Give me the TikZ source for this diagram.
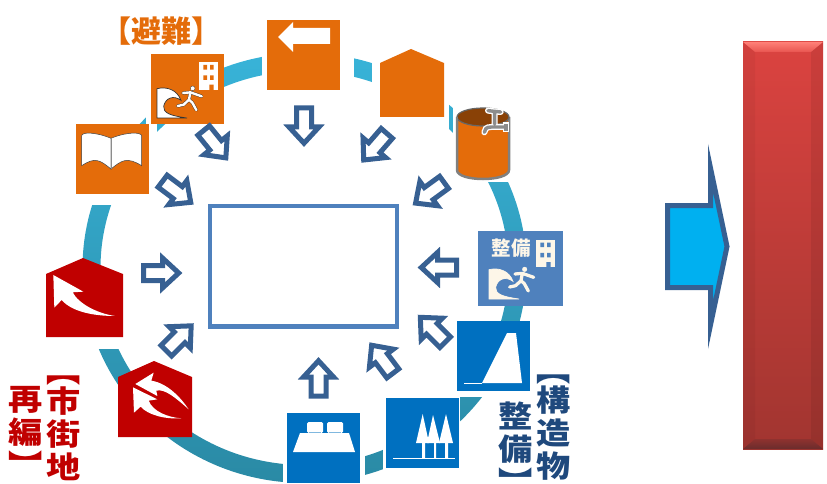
\documentclass[tikz,border=0pt]{standalone}
\usepackage{fontspec}
\usepackage{xcolor}
\usetikzlibrary{positioning,calc}
\newfontfamily\cjk{Noto Sans CJK JP}
\newfontfamily\cjkwide[FakeStretch=1.14]{Noto Sans CJK JP}
\definecolor{iorange}{HTML}{E46C0A}
\definecolor{ired}{HTML}{C00000}
\definecolor{iblue}{HTML}{0070C0}
\definecolor{isteel}{HTML}{4F81BD}
\definecolor{inavy}{HTML}{376092}
\definecolor{itext}{HTML}{1F497D}
\definecolor{icream}{HTML}{FDF6E8}
\definecolor{icyan}{HTML}{00B0F0}
\definecolor{ringa}{HTML}{38B3D8}
\definecolor{ringb}{HTML}{36A9CA}
\definecolor{ringc}{HTML}{2A8AA5}
\definecolor{bartop}{HTML}{DB4340}
\definecolor{barbot}{HTML}{A13530}
\definecolor{bevtop}{HTML}{FF8078}
\definecolor{bevmid}{HTML}{E85550}
\definecolor{bevdark}{HTML}{8F322F}
\definecolor{bevdeep}{HTML}{6A2C2C}
\tikzset{
  pics/blockarr/.style={code={
    \draw[draw=inavy, fill=white, line width=5pt, miter limit=10]
      (-18,-7.5) -- (1,-7.5) -- (1,-15) -- (17.2,0) -- (1,15) -- (1,7.5) -- (-18,7.5) -- cycle;
  }},
  pics/bldg/.style 2 args={code={
    \begin{scope}[scale=0.3333]
      \fill[#1] (0,0) rectangle (58,84);
      \fill[#2] (13,9) rectangle +(11,14) (33,9) rectangle +(11,14)
                (13,40) rectangle +(11,14) (33,40) rectangle +(11,14)
                (31,68) rectangle (44,84);
    \end{scope}
  }},
  pics/waverun/.style 2 args={code={
    \begin{scope}[scale=0.3333]
      % wave
      \filldraw[fill=#1, draw=#2, line width=0.7pt]
        (0,0) -- (0,-88) .. controls (30,-95) and (60,-85) .. (72,-53)
        .. controls (50,-70) and (25,-60) .. (20,-35)
        .. controls (18,-15) and (40,-7) .. (90,0) -- cycle;
      % runner
      \draw[#2, line width=3.2pt, line join=round, line cap=round]
        (78,-75) -- (100,-77) -- (134,-65)
        (100,-77) -- (96,-55) -- (80,-40) -- (62,-36)
        (96,-55) -- (106,-46) -- (118,-24);
      \draw[#1, line width=2.4pt, line join=round, line cap=round]
        (78,-75) -- (100,-77) -- (134,-65)
        (100,-77) -- (96,-55) -- (80,-40) -- (62,-36)
        (96,-55) -- (106,-46) -- (118,-24);
      \filldraw[fill=#1, draw=#2, line width=0.3pt] (107,-89) circle (7);
    \end{scope}
  }},
  iconbox/.style={minimum width=73pt, minimum height=70pt, inner sep=0pt, fill=#1},
  maskbox/.style={fill=white},
  vtext/.style={font=\cjkwide\bfseries\fontsize{30}{33}\selectfont, align=center, inner sep=0pt, text=#1},
}
\begin{document}
\begin{tikzpicture}[x=1pt, y=-1pt]
  \useasboundingbox (0,0) rectangle (827,484);

  % ring
  \shade[even odd rule, top color=ringa, middle color=ringb, bottom color=ringc]
    (304.5,268) ellipse [x radius=222, y radius=215]
    (304.5,268) ellipse [x radius=204, y radius=197];

  % white margins of the icons
  \fill[maskbox] (70,124) rectangle (157,205);
  \fill[maskbox] (146,40) rectangle (224,124);
  \fill[maskbox] (262,15) rectangle (354,92);
  \fill[maskbox] (372,45) rectangle (449,131);
  \fill[maskbox] (453,100) rectangle (515,182);
  \fill[maskbox] (455,321) rectangle (535,397);
  \fill[maskbox] (383,395) rectangle (460,472);
  \fill[maskbox] (283,410) rectangle (365,484);
  \fill[maskbox] (40,270) rectangle (130,349);

  % centre box
  \node[draw=isteel, fill=white, line width=4.5pt, minimum width=187pt, minimum height=120.5pt, inner sep=0pt] (centre) at (303.5,266.25) {};

  % orange icons
  \node[iconbox=iorange] (evacbox) at (187.5,89) {};
  \pic at (199,62) {bldg={white}{iorange}};
  \pic at (157,118) {waverun={white}{black!80}};

  \node[iconbox=iorange] (bookbox) at (112.5,159) {};
  \filldraw[fill=white, draw=black!75, line width=0.5pt]
    (111,138.3) .. controls (95,131.7) and (82,132) .. (81.7,135.7)
    -- (81.7,165.7) .. controls (95,156.7) and (100,160) .. (111,169) -- cycle;
  \filldraw[fill=white, draw=black!75, line width=0.5pt]
    (111,138.3) .. controls (127,131.7) and (141,132) .. (141.7,135.7)
    -- (141.7,165.7) .. controls (127,156.7) and (122,160) .. (111,169) -- cycle;
  \draw[black!45, line width=0.8pt] (111,138.3) -- (111,169);

  \node[iconbox=iorange] (routebox) at (303.5,55) {};
  \fill[white] (278,37) -- (293,22) -- (293,28) -- (330,28) -- (330,44) -- (293,44) -- (293,52) -- cycle;

  \fill[iorange] (380,63) -- (411,49) -- (444,63) -- (444,117) -- (380,117) -- cycle;

  % tank
  \filldraw[fill=iorange, draw=black!50, line width=2.5pt]
    (457,117) -- (457,170) .. controls (457,182) and (509,182) .. (509,170) -- (509,117);
  \filldraw[fill=iorange!60!black, draw=black!60, line width=1.2pt] (483,117) ellipse [x radius=26, y radius=9];
  \draw[black!50, line width=2.5pt] (457,117) -- (457,122);
  \begin{scope}[shift={(452,100)}, scale=0.3333, line cap=round]
    \draw[white, line width=6pt] (108,32) -- (146,36) (128,34) -- (128,72) (160,81) -- (118,81) .. controls (102,81) and (98,88) .. (97,97);
    \fill[white] (152,67) rectangle (172,96);
    \draw[black!45, line width=3.4pt] (108,32) -- (146,36) (128,34) -- (128,72) (160,81) -- (118,81) .. controls (102,81) and (98,88) .. (97,97);
    \fill[black!45] (156,71) rectangle (168,92);
  \end{scope}

  % red icons
  \fill[ired] (46,274) -- (83,258) -- (123,274) -- (123,337) -- (46,337) -- cycle;
  \begin{scope}[shift={(0,240)}, scale=0.3333]
    \fill[white] (160,105) -- (250,155) -- (218,157) .. controls (235,190) and (290,220) .. (345,228)
      .. controls (280,228) and (215,215) .. (185,180) -- (163,203) -- cycle;
  \end{scope}
  \fill[ired] (118,377) -- (154,361) -- (192,377) -- (192,437) -- (118,437) -- cycle;
  \begin{scope}[shift={(118,360)}, scale=0.3333]
    \fill[white] (52,72) -- (107,38) -- (100,62) .. controls (150,70) and (190,115) .. (212,148)
      .. controls (175,115) and (140,85) .. (115,92) -- (118,108) -- cycle;
    \fill[white] (45,82) -- (118,118) -- (92,122) .. controls (105,155) and (150,172) .. (190,175)
      .. controls (140,178) and (90,165) .. (68,140) -- (48,158) -- cycle;
  \end{scope}

  % blue icons
  \node[minimum width=85pt, minimum height=75pt, inner sep=0pt, fill=isteel] (reinfbox) at (520.5,268.5) {};
  \node[text=icream, font=\cjk\bfseries\fontsize{19.5}{19.5}\selectfont, inner sep=0pt] (reinflabel) at (511,248) {整備};
  \pic at (536,239.5) {bldg={icream}{isteel}};
  \pic at (489,299) {waverun={icream}{icream}};

  \node[iconbox=iblue] (dambox) at (493.5,355.5) {};
  \fill[white] (507,333) -- (516,333) -- (522,383) -- (482,383) -- cycle;
  \draw[white, line width=0.9pt] (464,383) -- (482,383);

  \node[iconbox=iblue] (forestbox) at (422.5,433) {};
  \fill[white] (422.7,414) -- (429,443) -- (416,443) -- cycle;
  \fill[white] (433,415) -- (440,443) -- (427,443) -- cycle;
  \fill[white] (446,414) -- (453,443) -- (439,443) -- cycle;
  \fill[white] (422,443) rectangle (425,458) (434,443) rectangle (436,458) (445,443) rectangle (448,458);
  \draw[white, line width=0.9pt] (393,458) -- (455,458);

  \node[iconbox=iblue] (bedbox) at (323.5,447.5) {};
  \fill[white] (293,452) -- (300,433) -- (349,433) -- (355,452) -- cycle;
  \fill[white, rounded corners=1.5pt] (307,422) rectangle (323,433) (327,422) rectangle (343,433);
  \draw[iblue!50!white, line width=0.6pt] (309,432.6) -- (321,432.6) (329,432.6) -- (341,432.6);

  % arrows towards the centre box
  \pic[rotate=-90] (arrroute) at (304,126) {blockarr};
  \pic[rotate=229] (arrhouse) at (375,147) {blockarr};
  \pic[rotate=216] (arrtank) at (429.5,193) {blockarr};
  \pic[rotate=180] (arrreinf) at (438.5,267.5) {blockarr};
  \pic[rotate=135] (arrdam) at (432.5,329.5) {blockarr};
  \pic[rotate=127] (arrforest) at (382,359) {blockarr};
  \pic[rotate=90] (arrbed) at (318.5,378) {blockarr};
  \pic[rotate=45] (arrred) at (179,338) {blockarr};
  \pic[rotate=0] (arrredb) at (161.5,273) {blockarr};
  \pic[rotate=-37] (arrbook) at (177,192) {blockarr};
  \pic[rotate=-51] (arrevac) at (215,144.5) {blockarr};

  % labels
  \node[font=\cjk\bfseries\fontsize{30}{30}\selectfont, text=iorange, inner sep=0pt] (lblevac) at (161,31.5) {【避難】};
  \node[vtext=ired, anchor=north] (lblcitya) at (63.5,376) {︻\\[-3pt]市\\街\\地};
  \node[vtext=ired, anchor=north] (lblcityb) at (25.5,386) {再\\編\\︼};
  \node[vtext=itext, anchor=north] (lblstra) at (554,375) {︻\\[-3pt]構\\造\\物};
  \node[vtext=itext, anchor=north] (lblstrb) at (516,402) {整\\備\\[-14pt]\raisebox{-14pt}[0pt][0pt]{︼}};

  % result arrow
  \draw[draw=inavy, fill=icyan, line width=5pt, miter limit=14]
    (667.5,205.5) -- (710.5,205.5) -- (710.5,168) -- (727,246.5) -- (710.5,325) -- (710.5,287.5) -- (667.5,287.5) -- cycle;

  % result bar
  \shade[top color=bartop, bottom color=barbot] (743,42) rectangle (823,449);
  \shade[top color=bevtop, bottom color=bevmid] (743,42) -- (823,42) -- (811,52) -- (755,52) -- cycle;
  \fill[black, opacity=0.04] (743,42) -- (755,52) -- (755,439) -- (743,449) -- cycle;
  \fill[black, opacity=0.07] (823,42) -- (811,52) -- (811,439) -- (823,449) -- cycle;
  \shade[top color=bevdark, bottom color=bevdeep] (743,449) -- (823,449) -- (811,439) -- (755,439) -- cycle;
\end{tikzpicture}
\end{document}
